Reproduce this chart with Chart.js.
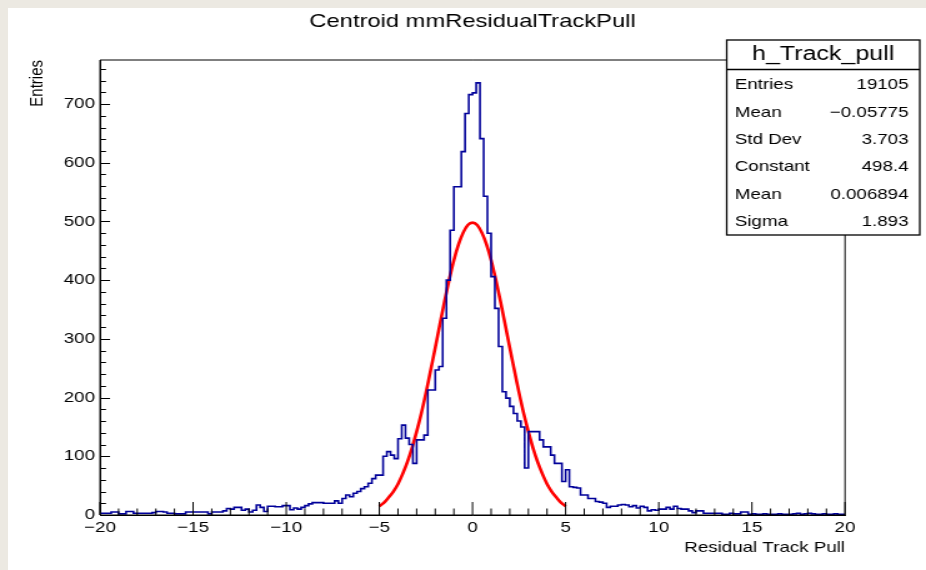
<!DOCTYPE html>
<html>
<head>
<meta charset="utf-8">
<title>Centroid mmResidualTrackPull</title>
<script src="https://cdn.jsdelivr.net/npm/chart.js@4.4.1/dist/chart.umd.min.js"></script>
<style>
  html, body { margin: 0; padding: 0; background: #ece9e2; overflow: hidden; }
  #pad { position: absolute; left: 8px; top: 8px; width: 918px; height: 562px; background: #fff; }
  #c { position: absolute; left: 0; top: 0; }
</style>
</head>
<body>
<div id="pad"></div>
<!-- ROOT canvas was stretched sideways in the screenshot, so stretch ours too -->
<canvas id="c" width="741" height="570" style="width:926px;height:570px"></canvas>

<script>
  // histogram h_Track_pull : 200 bins from -20 to 20
  const xMin = -20;
  const xMax = 20;
  const yMax = 775;
  const binCounts = [
    3, 3, 3, 5, 5, 2, 2, 6, 6, 3,
    3, 3, 3, 3, 4, 6, 6, 5, 3, 3,
    2, 2, 2, 5, 5, 5, 5, 5, 5, 2,
    5, 5, 5, 7, 11, 10, 13, 13, 8, 10,
    5, 8, 17, 13, 6, 15, 15, 14, 14, 16,
    16, 9, 12, 10, 13, 16, 19, 21, 21, 21,
    20, 20, 20, 24, 20, 28, 34, 31, 37, 40,
    45, 48, 54, 62, 68, 68, 100, 108, 102, 96,
    130, 153, 131, 120, 88, 128, 128, 136, 213, 213,
    247, 253, 335, 400, 485, 559, 559, 619, 684, 716,
    719, 736, 641, 543, 480, 406, 352, 287, 210, 199,
    185, 173, 160, 150, 80, 142, 142, 142, 128, 116,
    116, 102, 88, 88, 57, 77, 48, 47, 46, 34,
    34, 28, 28, 23, 22, 20, 13, 15, 15, 17,
    18, 17, 14, 16, 12, 15, 13, 7, 9, 8,
    10, 10, 13, 10, 15, 11, 10, 10, 7, 4,
    7, 7, 3, 3, 3, 3, 3, 1, 1, 3,
    2, 2, 5, 5, 1, 2, 1, 1, 2, 1,
    1, 1, 2, 1, 1, 1, 2, 3, 1, 2,
    3, 2, 1, 1, 2, 1, 1, 2, 1, 1
  ];

  // gaus fit curve
  const fitX = [-5, -4.75, -4.5, -4.25, -4, -3.75, -3.5, -3.25, -3, -2.75, -2.5,
    -2.25, -2, -1.75, -1.5, -1.25, -1, -0.75, -0.5, -0.25, 0,
    0.25, 0.5, 0.75, 1, 1.25, 1.5, 1.75, 2, 2.25, 2.5,
    2.75, 3, 3.25, 3.5, 3.75, 4, 4.25, 4.5, 4.75, 5];
  const fitY = [15, 21, 30, 40, 53, 70, 90, 114, 142, 173, 208,
    246, 285, 325, 364, 401, 434, 461, 481, 494, 498,
    494, 481, 461, 434, 401, 364, 325, 285, 246, 208,
    173, 142, 114, 90, 70, 53, 40, 30, 21, 15];

  // stats box
  const statTitle = "h_Track_pull";
  const statLabels = ["Entries", "Mean", "Std Dev", "Constant", "Mean", "Sigma"];
  const statValues = ["19105", "\u22120.05775", "3.703", "498.4", "0.006894", "1.893"];

  // step points at the bin edges
  const binWidth = (xMax - xMin) / binCounts.length;
  const histPoints = binCounts.map((c, i) => ({ x: xMin + i * binWidth, y: c }));
  histPoints.push({ x: xMax, y: binCounts[binCounts.length - 1] });
  const fitPoints = fitX.map((x, i) => ({ x: x, y: fitY[i] }));

  const FONT = "'Liberation Sans', Arial, Helvetica, sans-serif";
  Chart.defaults.font.family = FONT;
  Chart.defaults.color = "#000";

  // frame + inward ticks and the stats box, ROOT style
  const rootFrame = {
    id: "rootFrame",
    afterDatasetsDraw(chart) {
      const { ctx, chartArea: a, scales } = chart;
      ctx.save();
      ctx.strokeStyle = "#000";
      ctx.lineWidth = 1;
      ctx.beginPath();
      ctx.rect(a.left, a.top, a.right - a.left, a.bottom - a.top);
      for (let v = xMin; v <= xMax; v += 1) {
        const px = scales.x.getPixelForValue(v);
        const len = v % 5 === 0 ? 13 : 6.5;
        ctx.moveTo(px, a.bottom);
        ctx.lineTo(px, a.bottom - len);
      }
      for (let v = 0; v <= yMax; v += 20) {
        const py = Math.round(scales.y.getPixelForValue(v)) + 0.5;
        const len = v % 100 === 0 ? 8 : 4.8;
        ctx.moveTo(a.left, py);
        ctx.lineTo(a.left + len, py);
      }
      ctx.stroke();
      ctx.restore();
    },
    afterDraw(chart) {
      const ctx = chart.ctx;
      const L = 581.5, R = 736, T = 40, B = 235, H = 69.5;
      ctx.save();
      ctx.fillStyle = "#fff";
      ctx.fillRect(L, T, R - L, B - T);
      ctx.strokeStyle = "#000";
      ctx.lineWidth = 1.3;
      ctx.strokeRect(L, T, R - L, B - T);
      ctx.beginPath();
      ctx.moveTo(L, H);
      ctx.lineTo(R, H);
      ctx.stroke();
      ctx.fillStyle = "#000";
      ctx.textBaseline = "middle";
      ctx.textAlign = "center";
      ctx.font = "20px " + FONT;
      ctx.fillText(statTitle, (L + R) / 2, 54.5);
      ctx.font = "15px " + FONT;
      statLabels.forEach((lab, i) => {
        const y = 85 + i * 27.4;
        ctx.textAlign = "left";
        ctx.fillText(lab, 588, y);
        ctx.textAlign = "right";
        ctx.fillText(statValues[i], 727, y);
      });
      ctx.restore();
    }
  };

  new Chart(document.getElementById("c").getContext("2d"), {
    type: "line",
    data: {
      datasets: [
        {
          label: "h_Track_pull",
          data: histPoints,
          stepped: "before",
          borderColor: "#000099",
          borderWidth: 1.6,
          pointRadius: 0,
          fill: false
        },
        {
          label: "gaus",
          data: fitPoints,
          borderColor: "#ff0000",
          borderWidth: 2.6,
          pointRadius: 0,
          tension: 0.3,
          fill: false
        }
      ]
    },
    options: {
      responsive: false,
      devicePixelRatio: 1,
      animation: false,
      layout: { padding: { left: 0, right: 64.8, top: 0, bottom: 0 } },
      plugins: {
        legend: { display: false },
        tooltip: { enabled: false },
        title: {
          display: true,
          text: "Centroid mmResidualTrackPull",
          fullSize: false,
          font: { size: 19, weight: "normal" },
          color: "#000",
          padding: { top: 10.6, bottom: 26.6 }
        }
      },
      scales: {
        x: {
          type: "linear",
          min: xMin,
          max: xMax,
          grid: { display: false, drawTicks: false },
          border: { display: true, color: "#000", width: 1 },
          ticks: {
            stepSize: 5,
            padding: 4,
            maxRotation: 0,
            font: { size: 15 },
            callback: (v) => (v < 0 ? "\u2212" + Math.abs(v) : String(v))
          },
          title: {
            display: true,
            text: "Residual Track Pull",
            align: "end",
            font: { size: 15 },
            padding: { top: 0, bottom: 13 }
          },
          afterFit: (s) => { s.height = 55; }
        },
        y: {
          min: 0,
          max: yMax,
          grid: { display: false, drawTicks: false },
          border: { display: true, color: "#000", width: 1 },
          ticks: {
            stepSize: 100,
            includeBounds: false,
            padding: 4,
            font: { size: 15 }
          },
          title: {
            display: true,
            text: "Entries",
            align: "end",
            font: { size: 15 },
            padding: { top: 20.6, bottom: 0 }
          },
          afterFit: (s) => { s.width = 80; }
        }
      }
    },
    plugins: [rootFrame]
  });
</script>
</body>
</html>
